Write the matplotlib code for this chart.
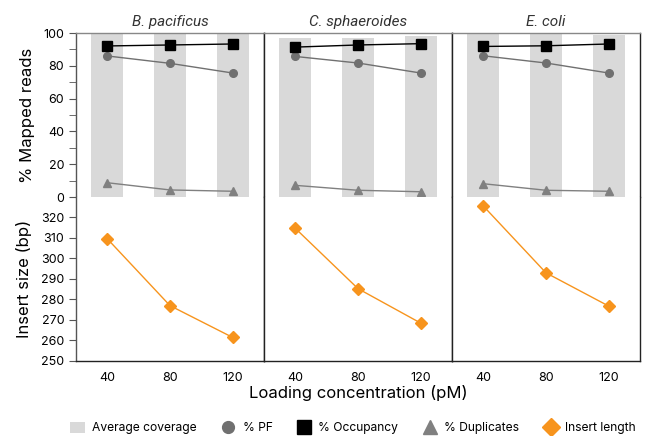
import matplotlib.pyplot as plt
from matplotlib.lines import Line2D
from matplotlib.patches import Patch

plt.rcParams['font.family'] = ['Inter', 'DejaVu Sans']

# Data
species = ['B. pacificus', 'C. sphaeroides', 'E. coli']
loading = [40, 80, 120]

coverage = [[100, 100, 100], [97, 97, 98], [100, 100, 99]]
pct_pf = [[86.0, 81.5, 75.6], [85.7, 81.7, 75.6], [86.1, 81.7, 75.6]]
pct_occupancy = [[92.1, 92.7, 93.3], [91.4, 92.7, 93.5], [91.8, 92.2, 93.3]]
pct_duplicates = [[8.7, 4.3, 3.5], [7.1, 4.1, 3.2], [8.1, 4.1, 3.5]]
insert_len = [[309.6, 277.0, 261.5], [314.7, 285.3, 268.5], [325.6, 293.0, 276.8]]

BAR = '#d9d9d9'
PF = '#707070'
DUP = '#808080'
ORANGE = '#f7941d'
SPINE = '#555555'

fig = plt.figure(figsize=(6.47, 4.36), dpi=100)

x0, w = 76 / 647, 188 / 647
top_b, bot_b, h = (436 - 197) / 436, (436 - 361) / 436, 164 / 436

for i, name in enumerate(species):
    axt = fig.add_axes([x0 + i * w, top_b, w, h])
    axb = fig.add_axes([x0 + i * w, bot_b, w, h], sharex=axt)

    axt.bar(loading, coverage[i], width=20.5, color=BAR, zorder=1)
    axt.plot(loading, pct_pf[i], color=PF, marker='o', ms=5.5, lw=1, zorder=3)
    axt.plot(loading, pct_occupancy[i], color='black', marker='s', ms=6.5, lw=1, zorder=4)
    axt.plot(loading, pct_duplicates[i], color=DUP, marker='^', ms=6, lw=1, zorder=3)
    axb.plot(loading, insert_len[i], color=ORANGE, marker='D', ms=6.5, lw=1, zorder=3)

    axt.set_xlim(20, 140)
    axt.set_ylim(0, 100)
    axb.set_ylim(250, 330)
    axt.set_title(name, style='italic', fontsize=11, pad=5, color='#333333',
                  family=['Roboto', 'DejaVu Sans'])

    axt.spines['bottom'].set_visible(False)
    axb.spines['top'].set_visible(False)
    for ax in (axt, axb):
        for s in ax.spines.values():
            s.set_color('#222222')
            s.set_linewidth(1)
    axt.spines['top'].set_color('#888888')
    axt.tick_params(axis='x', bottom=False, labelbottom=False)
    axb.set_xticks(loading)
    axb.tick_params(axis='x', length=0, pad=8, labelsize=9)

    if i == 0:
        axt.set_yticks(range(0, 101, 20))
        axt.set_yticks(range(10, 100, 20), minor=True)
        axt.tick_params(axis='y', which='both', length=5, labelsize=9, color=SPINE)
        axb.set_yticks(range(250, 321, 10))
        axb.tick_params(axis='y', length=5, labelsize=9, color=SPINE)
        axt.spines['left'].set_color(SPINE)
        axb.spines['left'].set_color(SPINE)
        axt.set_ylabel('% Mapped reads', fontsize=12, labelpad=6)
        axb.set_ylabel('Insert size (bp)', fontsize=12, labelpad=6)
    else:
        axt.tick_params(axis='y', left=False, labelleft=False)
        axb.tick_params(axis='y', left=False, labelleft=False)

fig.text(358 / 647, 1 - 393 / 436, 'Loading concentration (pM)', ha='center', va='center', fontsize=12)

handles = [
    Patch(facecolor=BAR, edgecolor='none'),
    Line2D([], [], color=PF, marker='o', ls='none', ms=8.5),
    Line2D([], [], color='black', marker='s', ls='none', ms=9.5),
    Line2D([], [], color=DUP, marker='^', ls='none', ms=10.5),
    Line2D([], [], color=ORANGE, marker='D', ls='none', ms=9.5),
]
labels = ['Average coverage', '% PF', '% Occupancy', '% Duplicates', 'Insert length']
fig.legend(handles, labels, loc='center', bbox_to_anchor=(353 / 647, 1 - 428 / 436), ncol=5,
           frameon=False, fontsize=8.7, handlelength=1.2, handleheight=1.1,
           handletextpad=0.6, columnspacing=2.0)

fig.savefig('out.png', dpi=100)
